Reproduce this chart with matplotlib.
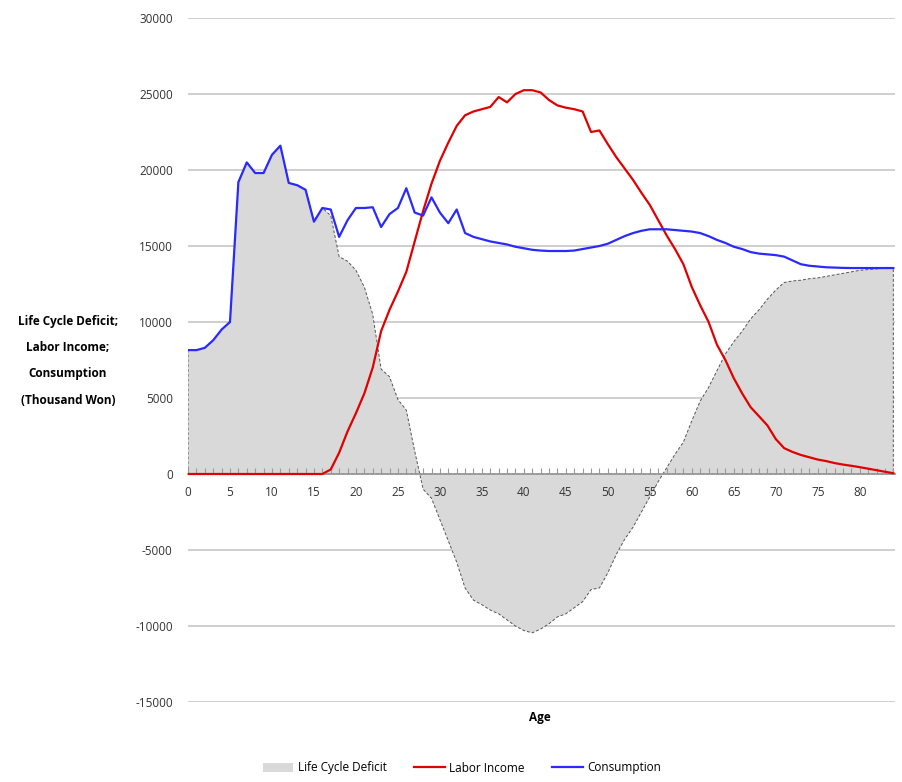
import matplotlib.pyplot as plt
from matplotlib.ticker import MultipleLocator
from matplotlib.patches import Patch
from matplotlib.lines import Line2D

plt.rcParams['font.family'] = ['Open Sans', 'DejaVu Sans']

ages = list(range(0, 85))

consumption = [
    8150, 8150, 8300, 8800, 9500, 10000, 19200, 20500, 19800, 19800,
    21000, 21600, 19150, 19000, 18700, 16600, 17500, 17400, 15600, 16700,
    17500, 17500, 17550, 16250, 17100, 17500, 18800, 17200, 17000, 18200,
    17200, 16500, 17400, 15850, 15600, 15450, 15300, 15200, 15100, 14950,
    14850, 14750, 14700, 14670, 14670, 14670, 14700, 14800, 14900, 15000,
    15150, 15400, 15650, 15850, 16000, 16100, 16100, 16100, 16050, 16000,
    15950, 15850, 15650, 15400, 15200, 14950, 14800, 14600, 14500, 14450,
    14400, 14300, 14050, 13800, 13700, 13650, 13600, 13580, 13560, 13550,
    13550, 13550, 13550, 13550, 13550,
]

labor_income = [
    0, 0, 0, 0, 0, 0, 0, 0, 0, 0,
    0, 0, 0, 0, 0, 0, 0, 300, 1400, 2800,
    4000, 5300, 7000, 9400, 10800, 12000, 13300, 15300, 17300, 19100,
    20600, 21800, 22900, 23600, 23850, 24000, 24150, 24800, 24450, 25000,
    25250, 25250, 25100, 24600, 24250, 24100, 24000, 23850, 22500, 22600,
    21700, 20850, 20100, 19350, 18500, 17700, 16700, 15700, 14800, 13800,
    12300, 11100, 10000, 8500, 7500, 6300, 5300, 4400, 3800, 3200,
    2300, 1700, 1450, 1250, 1100, 950, 850, 720, 620, 540,
    450, 350, 250, 150, 50,
]

deficit = [
    8150, 8150, 8300, 8800, 9500, 10000, 19200, 20500, 19800, 19800,
    21000, 21600, 19150, 19000, 18700, 16600, 17500, 17000, 14300, 14000,
    13400, 12300, 10500, 6900, 6400, 4900, 4200, 1500, -1000, -1600,
    -3000, -4400, -5800, -7500, -8300, -8600, -8950, -9200, -9600, -10000,
    -10300, -10450, -10200, -9850, -9400, -9200, -8800, -8400, -7600, -7500,
    -6500, -5300, -4300, -3500, -2500, -1500, -500, 400, 1300, 2100,
    3500, 4800, 5700, 6800, 7900, 8700, 9400, 10200, 10800, 11500,
    12100, 12600, 12700, 12750, 12850, 12900, 13000, 13100, 13200, 13300,
    13400, 13450, 13500, 13530, 13550,
]

fig = plt.figure(figsize=(9.02, 7.82), dpi=100)
ax = fig.add_axes([188 / 902, 1 - 702 / 782, 707 / 902, 684 / 782])

# gridlines
for y in range(-15000, 30001, 5000):
    if y != 0:
        ax.axhline(y, color='#cccccc', lw=1.3, zorder=0)

ax.fill_between(ages, deficit, 0, facecolor='#d9d9d9', edgecolor='#555555',
                linestyle=(0, (3, 2)), linewidth=0.7, zorder=1)
ax.plot(ages, labor_income, color='#e00000', lw=1.6, zorder=3)
ax.plot(ages, consumption, color='#2a2aff', lw=1.6, zorder=3)

ax.set_xlim(0, 84.2)
ax.set_ylim(-15000, 30000)
ax.set_yticks(range(-15000, 30001, 5000))
ax.set_yticklabels([str(v) for v in range(-15000, 30001, 5000)])

for s in ['top', 'right', 'left']:
    ax.spines[s].set_visible(False)
ax.spines['bottom'].set_position(('data', 0))
ax.spines['bottom'].set_color('#9a9a9a')
ax.spines['bottom'].set_linewidth(1.3)
ax.spines['bottom'].set_zorder(2)

ax.xaxis.set_major_locator(MultipleLocator(5))
ax.xaxis.set_minor_locator(MultipleLocator(1))
ax.tick_params(axis='x', which='both', direction='in', length=4,
               color='#9a9a9a', width=0.8, labelsize=8.5, pad=9,
               labelcolor='#333333')
ax.tick_params(axis='y', length=0, labelsize=8.5, pad=11, labelcolor='#333333')

fig.text(540 / 902, 1 - 718 / 782, 'Age', ha='center', va='center',
         fontsize=8.5, fontweight='bold')
fig.text(68 / 902, 1 - 361 / 782,
         'Life Cycle Deficit;\nLabor Income;\nConsumption\n(Thousand Won)',
         ha='center', va='center', fontsize=8.5, fontweight='bold',
         linespacing=2.3)

handles = [
    Patch(facecolor='#d9d9d9', edgecolor='none'),
    Line2D([], [], color='#e00000', lw=1.6),
    Line2D([], [], color='#2a2aff', lw=1.6),
]
fig.legend(handles, ['Life Cycle Deficit', 'Labor Income', 'Consumption'],
           loc='center', bbox_to_anchor=(462 / 902, 1 - 768 / 782), ncol=3,
           frameon=False, fontsize=8.5, handlelength=2.6, columnspacing=2.3,
           handletextpad=0.4)

fig.savefig('out.png', dpi=100)
